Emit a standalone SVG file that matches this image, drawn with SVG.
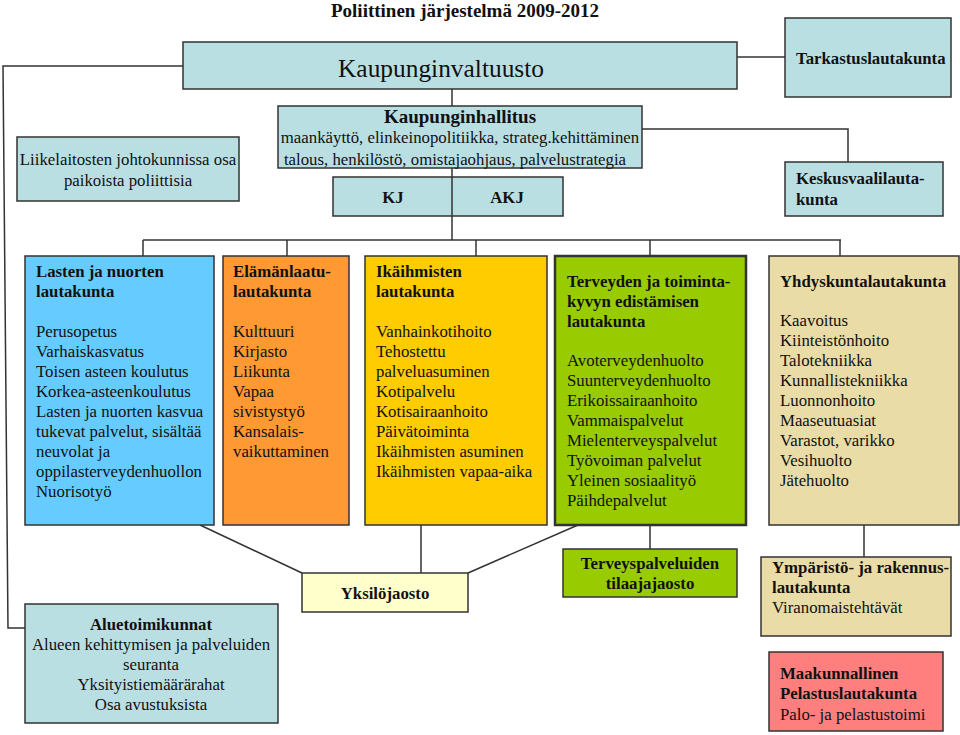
<svg xmlns="http://www.w3.org/2000/svg" width="960" height="735" viewBox="0 0 960 735">
<style>
text{font-family:'Liberation Serif','Times New Roman',Times,serif;fill:#111;font-size:16.8px}
.b{font-weight:bold}
.c{text-anchor:middle}
.t{font-size:19px}
.ttl{font-size:19px}
.big{font-size:25.4px}
.box{stroke:#333;stroke-width:1.5}
.teal{fill:#BADFE3}
.con{fill:none;stroke:#333;stroke-width:1.5}
</style>
<rect width="960" height="735" fill="#fff"/>
<text x="465" y="17" class="b c ttl">Poliittinen järjestelmä 2009-2012</text>

<g id="connectors">
<polyline class="con" points="183,66 3,66 8,628 25,628"/>
<line class="con" x1="737" y1="57" x2="785" y2="57"/>
<polyline class="con" points="642,129 848,129 848,162"/>
<line class="con" x1="452" y1="89" x2="452" y2="240"/>
<line class="con" x1="143" y1="240" x2="841" y2="240"/>
<line class="con" x1="143" y1="240" x2="143" y2="256"/>
<line class="con" x1="287" y1="240" x2="287" y2="256"/>
<line class="con" x1="476" y1="240" x2="476" y2="256"/>
<line class="con" x1="650" y1="240" x2="650" y2="256"/>
<line class="con" x1="840" y1="240" x2="840" y2="256"/>
<line class="con" x1="200" y1="525" x2="302" y2="573"/>
<line class="con" x1="421" y1="525" x2="421" y2="573"/>
<line class="con" x1="578" y1="525" x2="468" y2="573"/>
<line class="con" x1="650" y1="525" x2="650" y2="549"/>
<line class="con" x1="864" y1="525" x2="864" y2="557" style="stroke:#666;stroke-width:2"/>
</g>

<g id="valtuusto">
<rect class="box teal" x="183" y="42" width="554" height="47"/>
<text x="441" y="77" class="c big">Kaupunginvaltuusto</text>
</g>
<g id="tarkastus">
<rect class="box teal" x="785" y="18" width="166" height="79"/>
<text x="796" y="64" class="b">Tarkastuslautakunta</text>
</g>
<g id="hallitus">
<rect class="box teal" x="278" y="106" width="364" height="62"/>
<text x="460" y="123" class="b c t">Kaupunginhallitus</text>
<text x="460" y="143" class="c">maankäyttö, elinkeinopolitiikka, strateg.kehittäminen</text>
<text x="455" y="165" class="c">talous, henkilöstö, omistajaohjaus, palvelustrategia</text>
</g>
<g id="kj">
<rect class="box teal" x="333" y="177" width="230" height="39"/>
<line class="con" x1="452" y1="177" x2="452" y2="216"/>
<text x="393" y="203" class="b c">KJ</text>
<text x="507" y="203" class="b c">AKJ</text>
</g>
<g id="keskusvaali">
<rect class="box teal" x="785" y="162" width="158" height="54"/>
<text x="796" y="184" class="b">Keskusvaalilauta-</text>
<text x="796" y="205" class="b">kunta</text>
</g>
<g id="liikelaitokset">
<rect class="box teal" x="17" y="137" width="222" height="64"/>
<text x="128" y="165" class="c">Liikelaitosten johtokunnissa osa</text>
<text x="128" y="186" class="c">paikoista poliittisia</text>
</g>

<g id="lasten">
<rect class="box" x="25" y="256" width="189" height="269" fill="#66CCFF"/>
<text x="36" y="277" class="b">Lasten ja nuorten</text>
<text x="36" y="297" class="b">lautakunta</text>
<text x="36" y="337">Perusopetus</text>
<text x="36" y="357">Varhaiskasvatus</text>
<text x="36" y="377">Toisen asteen koulutus</text>
<text x="36" y="397">Korkea-asteenkoulutus</text>
<text x="36" y="417">Lasten ja nuorten kasvua</text>
<text x="36" y="437">tukevat palvelut, sisältää</text>
<text x="36" y="457">neuvolat ja</text>
<text x="36" y="477">oppilasterveydenhuollon</text>
<text x="36" y="497">Nuorisotyö</text>
</g>
<g id="elamanlaatu">
<rect class="box" x="223" y="256" width="126" height="269" fill="#FF9933"/>
<text x="233" y="277" class="b">Elämänlaatu-</text>
<text x="233" y="297" class="b">lautakunta</text>
<text x="233" y="337">Kulttuuri</text>
<text x="233" y="357">Kirjasto</text>
<text x="233" y="377">Liikunta</text>
<text x="233" y="397">Vapaa</text>
<text x="233" y="417">sivistystyö</text>
<text x="233" y="437">Kansalais-</text>
<text x="233" y="457">vaikuttaminen</text>
</g>
<g id="ikaihmiset">
<rect class="box" x="365" y="256" width="182" height="269" fill="#FFCC00"/>
<text x="376" y="277" class="b">Ikäihmisten</text>
<text x="376" y="297" class="b">lautakunta</text>
<text x="376" y="337">Vanhainkotihoito</text>
<text x="376" y="357">Tehostettu</text>
<text x="376" y="377">palveluasuminen</text>
<text x="376" y="397">Kotipalvelu</text>
<text x="376" y="417">Kotisairaanhoito</text>
<text x="376" y="437">Päivätoiminta</text>
<text x="376" y="457">Ikäihmisten asuminen</text>
<text x="376" y="477">Ikäihmisten vapaa-aika</text>
</g>
<g id="terveys">
<rect x="555" y="256" width="191" height="269" fill="#99CC00" stroke="#333" stroke-width="2.5"/>
<text x="567" y="287" class="b">Terveyden ja toiminta-</text>
<text x="567" y="307" class="b">kyvyn edistämisen</text>
<text x="567" y="327" class="b">lautakunta</text>
<text x="567" y="366">Avoterveydenhuolto</text>
<text x="567" y="386">Suunterveydenhuolto</text>
<text x="567" y="406">Erikoissairaanhoito</text>
<text x="567" y="426">Vammaispalvelut</text>
<text x="567" y="446">Mielenterveyspalvelut</text>
<text x="567" y="466">Työvoiman palvelut</text>
<text x="567" y="486">Yleinen sosiaalityö</text>
<text x="567" y="506">Päihdepalvelut</text>
</g>
<g id="yhdyskunta">
<rect class="box" x="769" y="256" width="190" height="269" fill="#EADCA6"/>
<text x="780" y="287" class="b">Yhdyskuntalautakunta</text>
<text x="780" y="326">Kaavoitus</text>
<text x="780" y="346">Kiinteistönhoito</text>
<text x="780" y="366">Talotekniikka</text>
<text x="780" y="386">Kunnallistekniikka</text>
<text x="780" y="406">Luonnonhoito</text>
<text x="780" y="426">Maaseutuasiat</text>
<text x="780" y="446">Varastot, varikko</text>
<text x="780" y="466">Vesihuolto</text>
<text x="780" y="486">Jätehuolto</text>
</g>

<g id="yksilojaosto">
<rect class="box" x="302" y="573" width="166" height="39" fill="#FFFFCC"/>
<text x="385" y="599" class="b c">Yksilöjaosto</text>
</g>
<g id="tilaajajaosto">
<rect class="box" x="563" y="549" width="174" height="48" fill="#99CC00"/>
<text x="650" y="569" class="b c">Terveyspalveluiden</text>
<text x="650" y="589" class="b c">tilaajajaosto</text>
</g>
<g id="ymparisto">
<rect class="box" x="761" y="557" width="190" height="79" fill="#EADCA6"/>
<text x="772" y="573" class="b">Ympäristö- ja rakennus-</text>
<text x="772" y="593" class="b">lautakunta</text>
<text x="772" y="613">Viranomaistehtävät</text>
</g>
<g id="pelastus">
<rect class="box" x="769" y="652" width="174" height="79" fill="#FF7F7F"/>
<text x="780" y="679" class="b">Maakunnallinen</text>
<text x="780" y="699" class="b">Pelastuslautakunta</text>
<text x="780" y="720">Palo- ja pelastustoimi</text>
</g>
<g id="aluetoimikunnat">
<rect class="box teal" x="25" y="604" width="253" height="119"/>
<text x="151" y="630" class="b c">Aluetoimikunnat</text>
<text x="151" y="650" class="c">Alueen kehittymisen ja palveluiden</text>
<text x="151" y="670" class="c">seuranta</text>
<text x="151" y="690" class="c">Yksityistiemäärärahat</text>
<text x="151" y="710" class="c">Osa avustuksista</text>
</g>
</svg>
